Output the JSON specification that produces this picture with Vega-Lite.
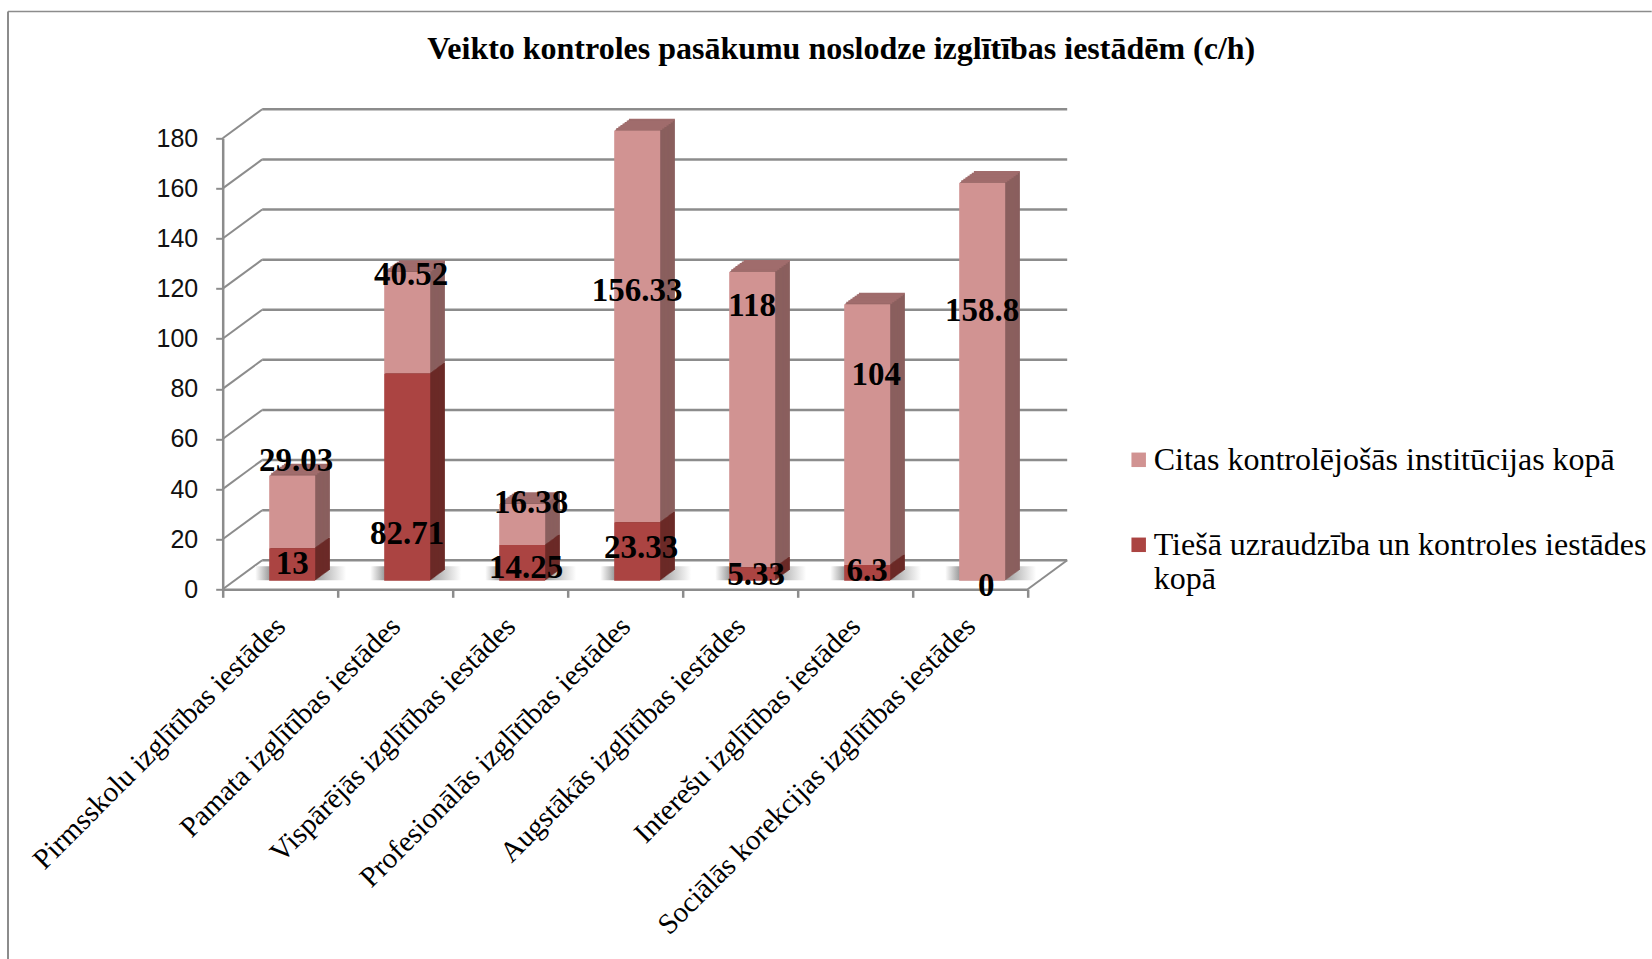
{
"$schema":"https://vega.github.io/schema/vega-lite/v6.json",
"autosize":{"type":"none"},
"padding":{"left":222.7,"top":138.3,"right":624,"bottom":370},
"width":805,"height":451,
"background":"white",
"title":{"text":"Veikto kontroles pasākumu noslodze izglītības iestādēm (c/h)","font":"Liberation Serif","fontSize":32,"fontWeight":"bold","color":"black","anchor":"middle","dx":216,"offset":-55},
"config":{"view":{"stroke":null},"tick":{"opacity":1}},
"datasets":{
"rows":[
{"c":"Pirmsskolu izglītības iestādes","s":"Citas kontrolējošās institūcijas kopā","v":29.03},
{"c":"Pirmsskolu izglītības iestādes","s":"Tiešā uzraudzība un kontroles iestādes kopā","v":13},
{"c":"Pamata izglītības iestādes","s":"Citas kontrolējošās institūcijas kopā","v":40.52},
{"c":"Pamata izglītības iestādes","s":"Tiešā uzraudzība un kontroles iestādes kopā","v":82.71},
{"c":"Vispārējās izglītības iestādes","s":"Citas kontrolējošās institūcijas kopā","v":16.38},
{"c":"Vispārējās izglītības iestādes","s":"Tiešā uzraudzība un kontroles iestādes kopā","v":14.25},
{"c":"Profesionālās izglītības iestādes","s":"Citas kontrolējošās institūcijas kopā","v":156.33},
{"c":"Profesionālās izglītības iestādes","s":"Tiešā uzraudzība un kontroles iestādes kopā","v":23.33},
{"c":"Augstākās izglītības iestādes","s":"Citas kontrolējošās institūcijas kopā","v":118},
{"c":"Augstākās izglītības iestādes","s":"Tiešā uzraudzība un kontroles iestādes kopā","v":5.33},
{"c":"Interešu izglītības iestādes","s":"Citas kontrolējošās institūcijas kopā","v":104},
{"c":"Interešu izglītības iestādes","s":"Tiešā uzraudzība un kontroles iestādes kopā","v":6.3},
{"c":"Sociālās korekcijas izglītības iestādes","s":"Citas kontrolējošās institūcijas kopā","v":158.8},
{"c":"Sociālās korekcijas izglītības iestādes","s":"Tiešā uzraudzība un kontroles iestādes kopā","v":0}
],
"labels":[
{"c":"Pirmsskolu izglītības iestādes","label":"29.03","labelAt":51.4,"g":"b"},
{"c":"Pirmsskolu izglītības iestādes","label":"13","labelAt":10.1,"g":"a"},
{"c":"Pamata izglītības iestādes","label":"40.52","labelAt":125.6,"g":"b"},
{"c":"Pamata izglītības iestādes","label":"82.71","labelAt":21.9,"g":"a"},
{"c":"Vispārējās izglītības iestādes","label":"16.38","labelAt":34.6,"g":"c"},
{"c":"Vispārējās izglītības iestādes","label":"14.25","labelAt":8.4,"g":"b"},
{"c":"Profesionālās izglītības iestādes","label":"156.33","labelAt":118.9,"g":"a"},
{"c":"Profesionālās izglītības iestādes","label":"23.33","labelAt":16.4,"g":"b"},
{"c":"Augstākās izglītības iestādes","label":"118","labelAt":113,"g":"a"},
{"c":"Augstākās izglītības iestādes","label":"5.33","labelAt":5.9,"g":"b"},
{"c":"Interešu izglītības iestādes","label":"104","labelAt":85.6,"g":"c"},
{"c":"Interešu izglītības iestādes","label":"6.3","labelAt":7.2,"g":"a"},
{"c":"Sociālās korekcijas izglītības iestādes","label":"158.8","labelAt":110.9,"g":"a"},
{"c":"Sociālās korekcijas izglītības iestādes","label":"0","labelAt":1.3,"g":"b"}
],
"gridRows":[{"g":0},{"g":20},{"g":40},{"g":60},{"g":80},{"g":100},{"g":120},{"g":140},{"g":160},{"g":180}]
},
"resolve":{"scale":{"x":"independent"}},
"layer":[
{"data":{"name":"gridRows"},"mark":{"type":"rule","stroke":"#8c8c8c","strokeWidth":2.5,"xOffset":39.5,"x2Offset":39.5,"yOffset":-29},
 "encoding":{"x":{"datum":0,"type":"quantitative","scale":{"domain":[0,1]},"axis":null},"x2":{"datum":1},"y":{"field":"g","type":"quantitative","scale":{"domain":[0,180]},
   "axis":{"title":null,"values":[0,20,40,60,80,100,120,140,160,180],"labelFont":"Liberation Sans","labelFontSize":25,"labelColor":"#111","labelPadding":18,"tickSize":7,"tickWidth":2,"tickColor":"#8c8c8c","domainColor":"#8c8c8c","domainWidth":2.5,"grid":false}}}},
{"data":{"name":"gridRows"},"mark":{"type":"rule","stroke":"#8c8c8c","strokeWidth":2,"x2Offset":39.5,"y2Offset":-29},
 "encoding":{"x":{"datum":0,"type":"quantitative","scale":{"domain":[0,1]},"axis":null},"x2":{"datum":0},"y":{"field":"g","type":"quantitative","scale":{"domain":[0,180]}},"y2":{"field":"g"}}},
{"data":{"values":[{"g":0}]},"mark":{"type":"rule","stroke":"#8c8c8c","strokeWidth":2,"x2Offset":39.5,"y2Offset":-29},
 "encoding":{"x":{"datum":1,"type":"quantitative","scale":{"domain":[0,1]},"axis":null},"x2":{"datum":1},"y":{"field":"g","type":"quantitative","scale":{"domain":[0,180]}},"y2":{"field":"g"}}},
{"data":{"values":[{"g":180}]},"mark":{"type":"rule","stroke":"#8c8c8c","strokeWidth":1.5,"xOffset":-214.7,"x2Offset":624,"yOffset":-126.8},
 "encoding":{"x":{"datum":0,"type":"quantitative","scale":{"domain":[0,1]},"axis":null},"x2":{"datum":1},"y":{"field":"g","type":"quantitative","scale":{"domain":[0,180]}}}},
{"data":{"values":[{"g":180,"g2":0}]},"mark":{"type":"rule","stroke":"#8c8c8c","strokeWidth":2,"xOffset":-214.7,"yOffset":-126.8,"y2Offset":370},
 "encoding":{"x":{"datum":0,"type":"quantitative","scale":{"domain":[0,1]},"axis":null},"y":{"field":"g","type":"quantitative","scale":{"domain":[0,180]}},"y2":{"field":"g2"}}},
{"data":{"name":"rows"},
 "transform":[{"stack":"v","groupby":["c"],"sort":[{"field":"s","order":"descending"}],"as":["y0","y1"]}],
 "encoding":{
  "x":{"field":"c","type":"nominal","sort":null,"scale":{"paddingInner":0,"paddingOuter":0},
   "axis":{"title":null,"labelAngle":-45,"labelAlign":"right","labelBaseline":"middle","labelFont":"Liberation Serif","labelFontSize":29,"labelColor":"black","labelLimit":600,"labelPadding":24,"labelOverlap":false,"tickBand":"extent","tickSize":8,"tickWidth":2.5,"tickColor":"#8c8c8c","domainColor":"#8c8c8c","domainWidth":2.5}},
  "y":{"field":"y1","type":"quantitative","stack":null,"scale":{"domain":[0,180]}},
  "y2":{"field":"y0"}
 },
 "layer":[
 {"transform":[{"filter":"indexof(datum.s,'Citas')==0"}],"mark":{"type":"tick","size":91,"thickness":14,"xOffset":20.5,"yOffset":-16,"color":{"gradient":"linear","x1":0,"x2":1,"y1":0,"y2":0,"stops":[{"offset":0,"color":"#ffffff"},{"offset":0.16,"color":"#9a9a9a"},{"offset":0.65,"color":"#9a9a9a"},{"offset":1,"color":"#ffffff"}]}},
  "encoding":{"y":{"datum":0,"type":"quantitative"},"y2":null}},
 {"mark":{"type":"bar","size":46,"xOffset":26.7,"yOffset":-19.3,"y2Offset":-19.3},"encoding":{"color":{"condition":{"test":"indexof(datum.s,'Citas')==0","value":"#8a5f5e"},"value":"#6b2a27"}}},
 {"mark":{"type":"bar","size":46,"xOffset":25.65,"yOffset":-18.53,"y2Offset":-18.53},"encoding":{"color":{"condition":{"test":"indexof(datum.s,'Citas')==0","value":"#8a5f5e"},"value":"#6b2a27"}}},
 {"mark":{"type":"bar","size":46,"xOffset":24.6,"yOffset":-17.77,"y2Offset":-17.77},"encoding":{"color":{"condition":{"test":"indexof(datum.s,'Citas')==0","value":"#8a5f5e"},"value":"#6b2a27"}}},
 {"mark":{"type":"bar","size":46,"xOffset":23.55,"yOffset":-17,"y2Offset":-17},"encoding":{"color":{"condition":{"test":"indexof(datum.s,'Citas')==0","value":"#8a5f5e"},"value":"#6b2a27"}}},
 {"mark":{"type":"bar","size":46,"xOffset":22.5,"yOffset":-16.24,"y2Offset":-16.24},"encoding":{"color":{"condition":{"test":"indexof(datum.s,'Citas')==0","value":"#8a5f5e"},"value":"#6b2a27"}}},
 {"mark":{"type":"bar","size":46,"xOffset":21.45,"yOffset":-15.48,"y2Offset":-15.48},"encoding":{"color":{"condition":{"test":"indexof(datum.s,'Citas')==0","value":"#8a5f5e"},"value":"#6b2a27"}}},
 {"mark":{"type":"bar","size":46,"xOffset":20.4,"yOffset":-14.71,"y2Offset":-14.71},"encoding":{"color":{"condition":{"test":"indexof(datum.s,'Citas')==0","value":"#8a5f5e"},"value":"#6b2a27"}}},
 {"mark":{"type":"bar","size":46,"xOffset":19.35,"yOffset":-13.95,"y2Offset":-13.95},"encoding":{"color":{"condition":{"test":"indexof(datum.s,'Citas')==0","value":"#8a5f5e"},"value":"#6b2a27"}}},
 {"mark":{"type":"bar","size":46,"xOffset":18.3,"yOffset":-13.18,"y2Offset":-13.18},"encoding":{"color":{"condition":{"test":"indexof(datum.s,'Citas')==0","value":"#8a5f5e"},"value":"#6b2a27"}}},
 {"mark":{"type":"bar","size":46,"xOffset":17.25,"yOffset":-12.42,"y2Offset":-12.42},"encoding":{"color":{"condition":{"test":"indexof(datum.s,'Citas')==0","value":"#8a5f5e"},"value":"#6b2a27"}}},
 {"mark":{"type":"bar","size":46,"xOffset":16.2,"yOffset":-11.66,"y2Offset":-11.66},"encoding":{"color":{"condition":{"test":"indexof(datum.s,'Citas')==0","value":"#8a5f5e"},"value":"#6b2a27"}}},
 {"mark":{"type":"bar","size":46,"xOffset":15.15,"yOffset":-10.89,"y2Offset":-10.89},"encoding":{"color":{"condition":{"test":"indexof(datum.s,'Citas')==0","value":"#8a5f5e"},"value":"#6b2a27"}}},
 {"mark":{"type":"bar","size":46,"xOffset":14.1,"yOffset":-10.13,"y2Offset":-10.13},"encoding":{"color":{"condition":{"test":"indexof(datum.s,'Citas')==0","value":"#8a5f5e"},"value":"#6b2a27"}}},
 {"mark":{"type":"bar","size":46,"xOffset":13.05,"yOffset":-9.36,"y2Offset":-9.36},"encoding":{"color":{"condition":{"test":"indexof(datum.s,'Citas')==0","value":"#8a5f5e"},"value":"#6b2a27"}}},
 {"transform":[{"filter":"indexof(datum.s,'Citas')==0"}],"mark":{"type":"tick","size":46,"thickness":2,"color":"#a06c6c","xOffset":26.7,"yOffset":-19.3},"encoding":{"y2":null}},
 {"transform":[{"filter":"indexof(datum.s,'Citas')==0"}],"mark":{"type":"tick","size":46,"thickness":2,"color":"#a06c6c","xOffset":24.6,"yOffset":-17.77},"encoding":{"y2":null}},
 {"transform":[{"filter":"indexof(datum.s,'Citas')==0"}],"mark":{"type":"tick","size":46,"thickness":2,"color":"#a06c6c","xOffset":22.5,"yOffset":-16.24},"encoding":{"y2":null}},
 {"transform":[{"filter":"indexof(datum.s,'Citas')==0"}],"mark":{"type":"tick","size":46,"thickness":2,"color":"#a06c6c","xOffset":20.4,"yOffset":-14.71},"encoding":{"y2":null}},
 {"transform":[{"filter":"indexof(datum.s,'Citas')==0"}],"mark":{"type":"tick","size":46,"thickness":2,"color":"#a06c6c","xOffset":18.3,"yOffset":-13.18},"encoding":{"y2":null}},
 {"transform":[{"filter":"indexof(datum.s,'Citas')==0"}],"mark":{"type":"tick","size":46,"thickness":2,"color":"#a06c6c","xOffset":16.2,"yOffset":-11.66},"encoding":{"y2":null}},
 {"transform":[{"filter":"indexof(datum.s,'Citas')==0"}],"mark":{"type":"tick","size":46,"thickness":2,"color":"#a06c6c","xOffset":14.1,"yOffset":-10.13},"encoding":{"y2":null}},
 {"mark":{"type":"bar","size":46,"xOffset":12,"yOffset":-8.6,"y2Offset":-8.6},
  "encoding":{"color":{"field":"s","type":"nominal","scale":{"domain":["Citas kontrolējošās institūcijas kopā","Tiešā uzraudzība un kontroles iestādes kopā"],"range":["#d19392","#ab4442"]},
   "legend":{"title":null,"orient":"none","legendX":900,"legendY":305.5,"padding":0,"symbolType":"square","symbolSize":210,"symbolStrokeWidth":0,"symbolOpacity":1,"labelFont":"Liberation Serif","labelFontSize":32,"labelColor":"black","labelLimit":700,"labelOffset":-1,"rowPadding":53,"labelExpr":"indexof(datum.label,'Tiešā')==0 ? ['Tiešā uzraudzība un kontroles iestādes','kopā'] : datum.label"}}}},
 {"data":{"name":"labels"},"transform":[{"filter":"datum.g=='a'"}],"mark":{"type":"text","font":"Liberation Serif","fontWeight":"bold","fontSize":33,"color":"black","xOffset":12,"baseline":"middle","align":"center"},
  "encoding":{"y":{"field":"labelAt","type":"quantitative"},"y2":null,"text":{"field":"label","type":"nominal"}}},
 {"data":{"name":"labels"},"transform":[{"filter":"datum.g=='b'"}],"mark":{"type":"text","font":"Liberation Serif","fontWeight":"bold","fontSize":33,"color":"black","xOffset":16,"baseline":"middle","align":"center"},
  "encoding":{"y":{"field":"labelAt","type":"quantitative"},"y2":null,"text":{"field":"label","type":"nominal"}}},
 {"data":{"name":"labels"},"transform":[{"filter":"datum.g=='c'"}],"mark":{"type":"text","font":"Liberation Serif","fontWeight":"bold","fontSize":33,"color":"black","xOffset":21,"baseline":"middle","align":"center"},
  "encoding":{"y":{"field":"labelAt","type":"quantitative"},"y2":null,"text":{"field":"label","type":"nominal"}}}
 ]
}
]
}
